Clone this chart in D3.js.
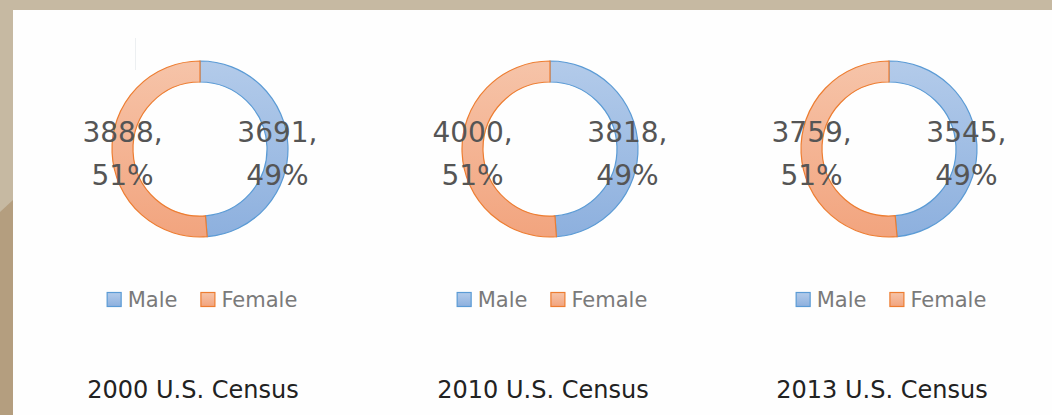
<!DOCTYPE html>
<html>
<head>
<meta charset="utf-8">
<script src="https://cdn.jsdelivr.net/npm/d3@7"></script>
<style>
  html, body { margin: 0; padding: 0; background: #c6b9a2; }
  svg { display: block; }
</style>
</head>
<body>
<div id="chart"></div>
<script>
// Data
var censusTitles = ["2000 U.S. Census", "2010 U.S. Census", "2013 U.S. Census"];
var maleValues = [3691, 3818, 3545];
var femaleValues = [3888, 4000, 3759];
var seriesNames = ["Male", "Female"];

// Layout
var svgWidth = 1052;
var svgHeight = 415;
var centersX = [200, 550, 889];
var centerY = 149;
var outerR = 88;
var innerR = 67;

var svg = d3.select("#chart")
    .append("svg")
    .attr("width", svgWidth)
    .attr("height", svgHeight);

// background: tan frame + white panel
svg.append("rect")
    .attr("width", svgWidth).attr("height", svgHeight)
    .attr("fill", "#c6b9a2");
svg.append("path")
    .attr("d", "M0,212 L13,200 L13,415 L0,415 Z")
    .attr("fill", "#b49e7f");
svg.append("rect")
    .attr("x", 13).attr("y", 10)
    .attr("width", svgWidth - 13).attr("height", svgHeight - 10)
    .attr("fill", "#fefefe");

// faint artifact line near first chart
svg.append("line")
    .attr("x1", 135.5).attr("x2", 135.5)
    .attr("y1", 38).attr("y2", 70)
    .attr("stroke", "#eceff1").attr("stroke-width", 1);

// gradients
var defs = svg.append("defs");
function addGradient(id, top, bottom) {
    var g = defs.append("linearGradient")
        .attr("id", id)
        .attr("x1", 0).attr("y1", 0).attr("x2", 0).attr("y2", 1);
    g.append("stop").attr("offset", "0%").attr("stop-color", top);
    g.append("stop").attr("offset", "100%").attr("stop-color", bottom);
}
addGradient("gradMale", "#b3cbea", "#8db0de");
addGradient("gradFemale", "#f6c4a9", "#f2a47e");

var fillColor = d3.scaleOrdinal()
    .domain(seriesNames)
    .range(["url(#gradMale)", "url(#gradFemale)"]);
var strokeColor = d3.scaleOrdinal()
    .domain(seriesNames)
    .range(["#5b9bd5", "#ed7d31"]);

var pie = d3.pie()
    .sort(null)
    .value(d => d.value);

var arc = d3.arc()
    .innerRadius(innerR)
    .outerRadius(outerR);

var pct = d3.format(".0%");

censusTitles.forEach(function(title, i) {
    var data = [
        { name: seriesNames[0], value: maleValues[i] },
        { name: seriesNames[1], value: femaleValues[i] }
    ];
    var total = d3.sum(data, d => d.value);

    var g = svg.append("g")
        .attr("transform", `translate(${centersX[i]}, ${centerY})`);

    var arcs = pie(data);

    // Donut slices
    g.selectAll("path.slice")
        .data(arcs)
        .enter()
        .append("path")
        .attr("class", "slice")
        .attr("d", arc)
        .attr("fill", d => fillColor(d.data.name))
        .attr("stroke", d => strokeColor(d.data.name))
        .attr("stroke-width", 1.2);

    // Data labels (value, percent)
    var labels = g.selectAll("text.lbl")
        .data(arcs)
        .enter()
        .append("text")
        .attr("class", "lbl")
        .attr("text-anchor", "middle")
        .attr("font-family", "DejaVu Sans, sans-serif")
        .attr("font-size", "28px")
        .attr("fill", "#555555");

    labels.append("tspan")
        .attr("x", d => arc.centroid(d)[0])
        .attr("y", -7)
        .text(d => d.data.value + ",");
    labels.append("tspan")
        .attr("x", d => arc.centroid(d)[0])
        .attr("y", 36)
        .text(d => pct(d.data.value / total));

    // Legend
    var legend = svg.append("g");
    var xPos = 0;
    seriesNames.forEach(function(name, k) {
        var item = legend.append("g")
            .attr("transform", `translate(${xPos}, 0)`);
        item.append("rect")
            .attr("x", 0.5).attr("y", -6.5)
            .attr("width", 14).attr("height", 14)
            .attr("fill", fillColor(name))
            .attr("stroke", strokeColor(name))
            .attr("stroke-width", 1.2);
        var t = item.append("text")
            .attr("x", 21)
            .attr("y", 8)
            .attr("font-family", "DejaVu Sans, sans-serif")
            .attr("font-size", "21px")
            .attr("fill", "#7a7a7a")
            .text(name);
        xPos += 21 + t.node().getComputedTextLength() + 23;
    });
    var legendWidth = xPos - 23;
    legend.attr("transform", `translate(${centersX[i] + 2 - legendWidth / 2}, 299)`);

    // Title
    svg.append("text")
        .attr("x", centersX[i] - 7)
        .attr("y", 398)
        .attr("text-anchor", "middle")
        .attr("font-family", "DejaVu Sans, sans-serif")
        .attr("font-size", "24px")
        .attr("fill", "#222222")
        .text(title);
});
</script>
</body>
</html>
